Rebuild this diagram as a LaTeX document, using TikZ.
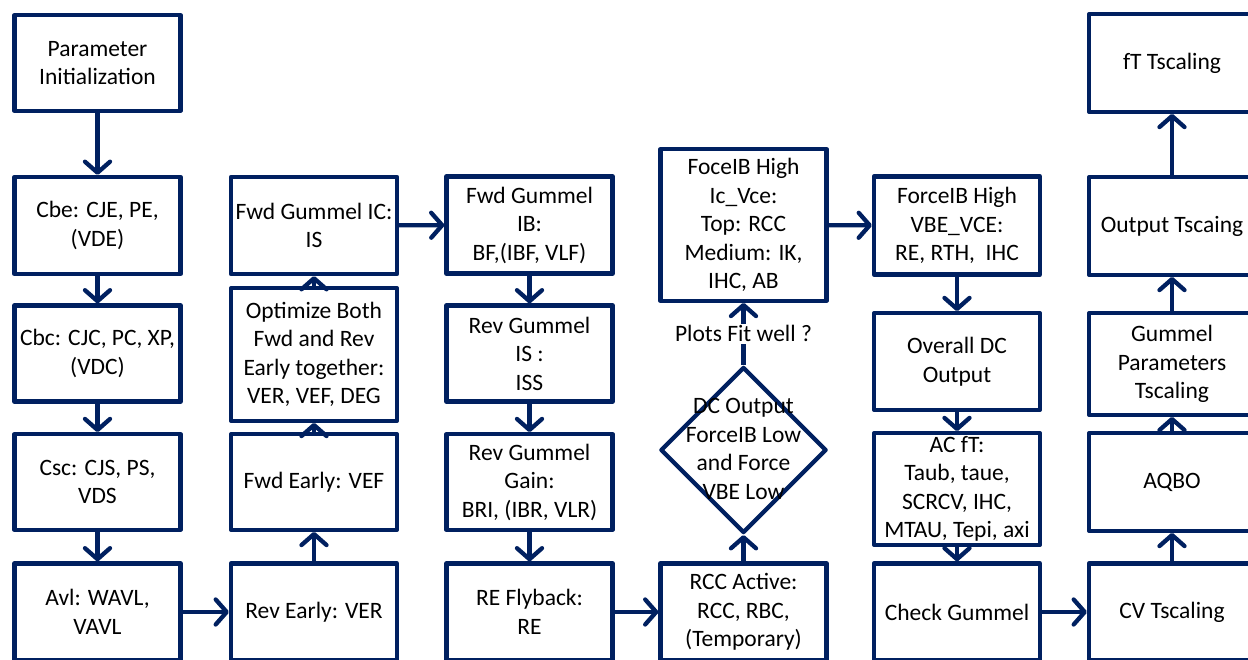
\documentclass[tikz,border=0pt]{standalone}
\usepackage{fontspec}
\setmainfont{Carlito}
\usetikzlibrary{arrows.meta,shapes.geometric}
\definecolor{navy}{RGB}{0,32,96}
\newcommand{\bodyfont}{\fontsize{23.5}{28.5}\selectfont}
\tikzset{
  box/.style={draw=navy, line width=4.3pt, minimum width=166pt, align=center,
    inner sep=1pt, font=\bodyfont, text=black, line join=round},
  conn/.style={draw=navy, line width=4.3pt,
    -{Straight Barb[length=11pt,width=25pt,round]}},
  lbl/.style={font=\bodyfont, text=black, align=center, inner sep=1pt}
}
\begin{document}
\begin{tikzpicture}[x=1pt,y=-1pt]
\useasboundingbox (0,0) rectangle (1248,660);
\clip (0,0) rectangle (1248,660);
% column 1
\node[box, minimum height=95.5pt] (pinit) at (97.5,63) {Parameter\\Initialization};
\node[box, minimum height=97pt] (cbe) at (97.5,225.5) {Cbe: CJE, PE,\\(VDE)};
\node[box, minimum height=96pt] (cbc) at (97.5,353.5) {Cbc: CJC, PC, XP,\\(VDC)};
\node[box, minimum height=95.5pt] (csc) at (97.5,482) {Csc: CJS, PS,\\VDS};
\node[box, minimum height=97pt] (avl) at (97.5,612) {Avl: WAVL,\\VAVL};
% column 2
\node[box, minimum height=97pt] (fgic) at (314,225.5) {Fwd Gummel IC:\\IS};
\node[box, minimum height=132.5pt] (opt) at (314,354.5) {Optimize Both\\Fwd and Rev\\Early together:\\VER, VEF, DEG};
\node[box, minimum height=95.5pt] (fearly) at (314,482) {Fwd Early: VEF};
\node[box, minimum height=97pt] (rearly) at (314,612) {Rev Early: VER};
% column 3
\node[box, minimum height=97pt] (fgib) at (529.5,225) {Fwd Gummel\\IB:\\BF,(IBF, VLF)};
\node[box, minimum height=96pt] (rgis) at (529.5,353.5) {Rev Gummel\\IS :\\ISS};
\node[box, minimum height=95.5pt] (rggain) at (529.5,482) {Rev Gummel\\Gain:\\BRI, (IBR, VLR)};
\node[box, minimum height=97pt] (refly) at (529.5,612) {RE Flyback:\\RE};
% column 4
\node[box, minimum height=151.5pt] (foce) at (743.5,225) {FoceIB High\\Ic\_Vce:\\Top: RCC\\Medium: IK,\\IHC, AB};
\node[draw=navy, line width=4.3pt, diamond, minimum width=166pt, minimum height=166pt, inner sep=0pt, line join=round] (dia) at (743.5,450) {};
\node[lbl] (diatext) at (743.5,449) {DC Output\\ForceIB Low\\and Force\\VBE Low};
\node[box, minimum height=97pt] (rcc) at (743.5,612) {RCC Active:\\RCC, RBC,\\(Temporary)};
% column 5
\node[box, minimum height=98pt] (vbe) at (957,225.5) {ForceIB High\\VBE\_VCE:\\RE, RTH,\ \ IHC};
\node[box, minimum height=96.5pt] (odc) at (957,361.5) {Overall DC\\Output};
\node[box, minimum height=111.5pt] (acft) at (957,489) {AC fT:\\Taub, taue,\\SCRCV, IHC,\\MTAU, Tepi, axi};
\node[box, minimum height=97pt] (chk) at (957,612) {Check Gummel};
% column 6
\node[box, minimum height=97.5pt] (ftts) at (1172,63) {fT Tscaling};
\node[box, minimum height=97.5pt] (outts) at (1172,226) {Output Tscaing};
\node[box, minimum height=101.5pt] (gumts) at (1172,364) {Gummel\\Parameters\\Tscaling};
\node[box, minimum height=97.5pt] (aqbo) at (1172,482) {AQBO};
\node[box, minimum height=97pt] (cvts) at (1172,612) {CV Tscaling};
% connectors
\draw[conn] (pinit) -- (cbe);
\draw[conn] (cbe) -- (cbc);
\draw[conn] (cbc) -- (csc);
\draw[conn] (csc) -- (avl);
\draw[conn] (avl) -- (rearly);
\draw[conn] (rearly) -- (fearly);
\draw[conn] (fearly) -- (opt);
\draw[conn] (opt) -- (fgic);
\draw[conn] (fgic) -- (fgib);
\draw[conn] (fgib) -- (rgis);
\draw[conn] (rgis) -- (rggain);
\draw[conn] (rggain) -- (refly);
\draw[conn] (refly) -- (rcc);
\draw[conn] (rcc) -- (dia.south);
\draw[conn] (dia.north) -- (foce.south) node[lbl, midway, fill=white, inner sep=2pt] (plots) {Plots Fit well ?};
\draw[conn] (foce) -- (vbe);
\draw[conn] (vbe) -- (odc);
\draw[conn] (odc) -- (acft);
\draw[conn] (acft) -- (chk);
\draw[conn] (chk) -- (cvts);
\draw[conn] (cvts) -- (aqbo);
\draw[conn] (aqbo) -- (gumts);
\draw[conn] (gumts) -- (outts);
\draw[conn] (outts) -- (ftts);
\end{tikzpicture}
\end{document}
